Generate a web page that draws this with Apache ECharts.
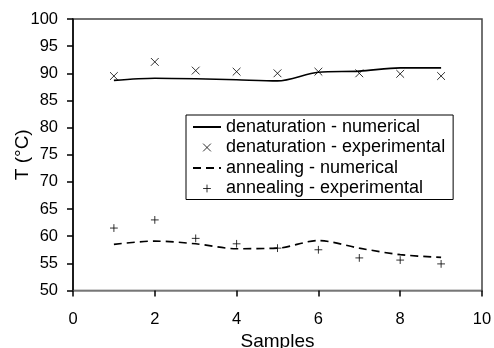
<!DOCTYPE html>
<html>
<head>
<meta charset="utf-8">
<script src="https://cdn.jsdelivr.net/npm/echarts@6/dist/echarts.min.js"></script>
<style>
  html, body { margin: 0; padding: 0; background: #fff; }
  #chart { width: 494px; height: 348px; }
</style>
</head>
<body>
<div id="chart"></div>
<script>
// data
const samples = [1, 2, 3, 4, 5, 6, 7, 8, 9];
const denatNumerical = [88.7, 89.1, 89.0, 88.8, 88.6, 90.2, 90.4, 91.0, 91.0];
const denatExperimental = [89.5, 92.1, 90.5, 90.3, 90.0, 90.3, 90.0, 89.9, 89.5];
const annealNumerical = [58.5, 59.1, 58.6, 57.7, 57.8, 59.2, 57.8, 56.6, 56.1];
const annealExperimental = [61.5, 63.0, 59.6, 58.6, 57.8, 57.5, 56.0, 55.6, 54.9];

const seriesNames = [
  'denaturation - numerical',
  'denaturation - experimental',
  'annealing - numerical',
  'annealing - experimental'
];

const FONT = 'Liberation Sans, Arial, sans-serif';

// extra moveTo points pad the symbol box so the legend icon stays small
const CROSS = 'path://M-4,-4M14,14M0,0L10,10M10,0L0,10';
const PLUS = 'path://M-4,-4M14,14M5,0L5,10M0,5L10,5';

function pairs(ys) {
  return samples.map(function(x, i) { return [x, ys[i]]; });
}

// legend entries: lines get no symbol, markers get a thin stroke
const legendData = seriesNames.map(function(name, i) {
  if (i % 2 === 0) {
    return { name: name, itemStyle: { color: 'transparent', borderColor: 'transparent', borderWidth: 0 } };
  }
  return { name: name, itemStyle: { color: 'transparent', borderColor: '#000', borderWidth: 1 } };
});

const chart = echarts.init(document.getElementById('chart'), null, { renderer: 'canvas' });

chart.setOption({
  animation: false,
  backgroundColor: '#fff',
  textStyle: { fontFamily: FONT },
  grid: {
    left: 73, right: 12, top: 19, bottom: 57.5,
    containLabel: false,
    outerBoundsMode: 'none',
    show: true, borderColor: '#444', borderWidth: 1.5
  },
  legend: {
    orient: 'vertical',
    left: 186, top: 115,
    backgroundColor: '#fff',
    borderColor: '#000', borderWidth: 1,
    padding: [3, 8, 2, 6],
    itemWidth: 28, itemHeight: 14, itemGap: 2.5,
    textStyle: { fontFamily: FONT, fontSize: 18, lineHeight: 16, color: '#000' },
    data: legendData
  },
  xAxis: {
    type: 'value',
    min: 0, max: 10, interval: 2,
    name: 'Samples',
    nameLocation: 'middle',
    nameGap: 42,
    nameMoveOverlap: false,
    nameTextStyle: { fontFamily: FONT, fontSize: 19, color: '#000' },
    axisLine: { show: true, onZero: false, lineStyle: { color: '#888', width: 1.5 } },
    axisTick: { show: true, length: 6, lineStyle: { color: '#000', width: 1.5 } },
    axisLabel: { fontFamily: FONT, fontSize: 16.5, color: '#000', margin: 20 },
    splitLine: { show: false }
  },
  yAxis: {
    type: 'value',
    min: 50, max: 100, interval: 5,
    name: 'T (°C)',
    nameLocation: 'middle',
    nameGap: 41,
    nameMoveOverlap: false,
    nameTextStyle: { fontFamily: FONT, fontSize: 19, color: '#000' },
    axisLine: { show: true, onZero: false, lineStyle: { color: '#000', width: 1.5 } },
    axisTick: { show: true, length: 6, lineStyle: { color: '#000', width: 1.5 } },
    axisLabel: { fontFamily: FONT, fontSize: 16.5, color: '#000', margin: 15 },
    splitLine: { show: false }
  },
  series: [
    {
      name: seriesNames[0],
      type: 'line',
      data: pairs(denatNumerical),
      symbol: 'none',
      smooth: 0.3,
      lineStyle: { color: '#000', width: 1.6 },
      itemStyle: { color: '#000' }
    },
    {
      name: seriesNames[1],
      type: 'scatter',
      data: pairs(denatExperimental),
      symbol: CROSS,
      symbolSize: 14,
      itemStyle: { color: 'none', borderColor: '#000', borderWidth: 1 }
    },
    {
      name: seriesNames[2],
      type: 'line',
      data: pairs(annealNumerical),
      symbol: 'none',
      smooth: 0.3,
      lineStyle: { color: '#000', width: 1.6, type: [8, 5] },
      itemStyle: { color: '#000' }
    },
    {
      name: seriesNames[3],
      type: 'scatter',
      data: pairs(annealExperimental),
      symbol: PLUS,
      symbolSize: 14,
      itemStyle: { color: 'none', borderColor: '#000', borderWidth: 1 }
    }
  ]
});
</script>
</body>
</html>
